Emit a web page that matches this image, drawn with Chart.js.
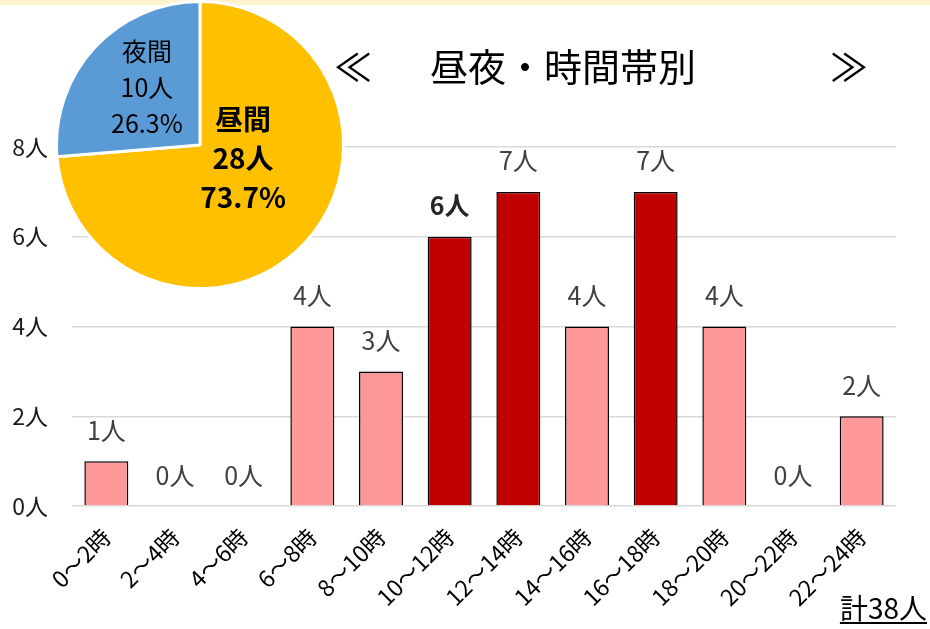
<!DOCTYPE html>
<html lang="ja">
<head>
<meta charset="utf-8">
<script src="https://cdn.jsdelivr.net/npm/chart.js@4.4.1/dist/chart.umd.min.js"></script>
<style>
  html, body { margin: 0; padding: 0; background: #fff; }
  #wrap { position: relative; width: 930px; height: 629px; overflow: hidden; font-family: "Noto Sans CJK JP", sans-serif; }
  #band { position: absolute; left: 0; top: 0; width: 930px; height: 5px; background: #FFF2CC; }
  #barCanvas { position: absolute; left: 0; top: 0; }
  #pieCanvas { position: absolute; left: 55px; top: 0px; }
  .t { position: absolute; top: 37px; font-size: 38px; line-height: 56px; color: #000; white-space: pre; }
  #total { position: absolute; right: 3px; top: 588px; font-size: 28px; line-height: 38px; color: #000; text-decoration: underline; text-underline-offset: 3px; text-decoration-thickness: 2px; }
</style>
</head>
<body>
<div id="wrap">
  <div id="band"></div>
  <canvas id="barCanvas" width="930" height="629"></canvas>
  <canvas id="pieCanvas" width="290" height="290"></canvas>
  <div id="title"><span class="t" style="left:334px">≪</span><span class="t" style="left:430px">昼夜・時間帯別</span><span class="t" style="left:830px">≫</span></div>
  <div id="total">計38人</div>
</div>
<script>
// ---- data ----
const categories = ["0～2時","2～4時","4～6時","6～8時","8～10時","10～12時","12～14時","14～16時","16～18時","18～20時","20～22時","22～24時"];
const counts = [1, 0, 0, 4, 3, 6, 7, 4, 7, 4, 0, 2];
const highlighted = [false, false, false, false, false, true, true, false, true, false, false, false];
const yTicks = [0, 2, 4, 6, 8];
const pieLabels = ["昼間", "夜間"];
const pieValues = [28, 10];
const piePercents = ["73.7%", "26.3%"];
const unit = "人";

const FONT = '"Noto Sans CJK JP", "Noto Sans", sans-serif';

// ---- bar chart ----
const barLabelPlugin = {
  id: 'barLabels',
  afterDatasetsDraw(chart) {
    const ctx = chart.ctx;
    const meta = chart.getDatasetMeta(0);
    ctx.save();
    ctx.textAlign = 'center';
    ctx.textBaseline = 'middle';
    meta.data.forEach((bar, i) => {
      const bold = counts[i] === 6;
      ctx.font = (bold ? 'bold ' : '') + '25px ' + FONT;
      ctx.fillStyle = bold ? '#262626' : '#404040';
      ctx.fillText(counts[i] + unit, bar.x, bar.y - 31);
    });
    ctx.restore();
  }
};

new Chart(document.getElementById('barCanvas'), {
  type: 'bar',
  data: {
    labels: categories,
    datasets: [{
      data: counts,
      backgroundColor: highlighted.map(h => h ? '#C00000' : '#FF9999'),
      borderColor: '#000000',
      borderWidth: 1.5,
      borderSkipped: 'bottom',
      categoryPercentage: 1.0,
      barPercentage: 0.64
    }]
  },
  options: {
    responsive: false,
    animation: false,
    devicePixelRatio: 1,
    layout: { padding: { left: 0, right: 34, top: 147, bottom: 0 } },
    plugins: { legend: { display: false }, tooltip: { enabled: false }, title: { display: false } },
    scales: {
      x: {
        grid: { display: false, drawTicks: false },
        border: { display: false },
        ticks: {
          color: '#000',
          font: { family: FONT, size: 23 },
          minRotation: 45,
          maxRotation: 45,
          padding: 17,
          autoSkip: false
        },
        afterFit(scale) { scale.height = 123; }
      },
      y: {
        min: 0,
        max: 8,
        afterBuildTicks(scale) { scale.ticks = yTicks.map(v => ({ value: v })); },
        grid: { color: '#D9D9D9', lineWidth: 1.5, drawTicks: false },
        border: { display: false },
        ticks: {
          color: '#1a1a1a',
          font: { family: FONT, size: 23 },
          padding: 24,
          callback: v => v + unit
        },
        afterFit(scale) { scale.width = 72; }
      }
    }
  },
  plugins: [barLabelPlugin]
});

// ---- pie chart ----
const pieLabelStyle = [
  { dx: 0.30, dy: 0.09, size: 28, bold: true, gap: 39 },
  { dx: -0.37, dy: -0.40, size: 25, bold: false, gap: 36 }
];
const pieLabelPlugin = {
  id: 'pieLabels',
  afterDatasetsDraw(chart) {
    const ctx = chart.ctx;
    const meta = chart.getDatasetMeta(0);
    ctx.save();
    ctx.textAlign = 'center';
    ctx.textBaseline = 'middle';
    ctx.fillStyle = '#000';
    meta.data.forEach((arc, i) => {
      const st = pieLabelStyle[i];
      const r = arc.outerRadius;
      const cx = arc.x + st.dx * r;
      const cy = arc.y + st.dy * r;
      ctx.font = (st.bold ? 'bold ' : '') + st.size + 'px ' + FONT;
      const lines = [pieLabels[i], pieValues[i] + unit, piePercents[i]];
      lines.forEach((t, k) => ctx.fillText(t, cx, cy + (k - 1) * st.gap));
    });
    ctx.restore();
  }
};

new Chart(document.getElementById('pieCanvas'), {
  type: 'pie',
  data: {
    labels: pieLabels,
    datasets: [{
      data: pieValues,
      backgroundColor: ['#FFC000', '#5B9BD5'],
      borderColor: '#FFFFFF',
      borderWidth: 3
    }]
  },
  options: {
    responsive: false,
    animation: false,
    devicePixelRatio: 1,
    layout: { padding: 0 },
    plugins: { legend: { display: false }, tooltip: { enabled: false } }
  },
  plugins: [pieLabelPlugin]
});
</script>
</body>
</html>
